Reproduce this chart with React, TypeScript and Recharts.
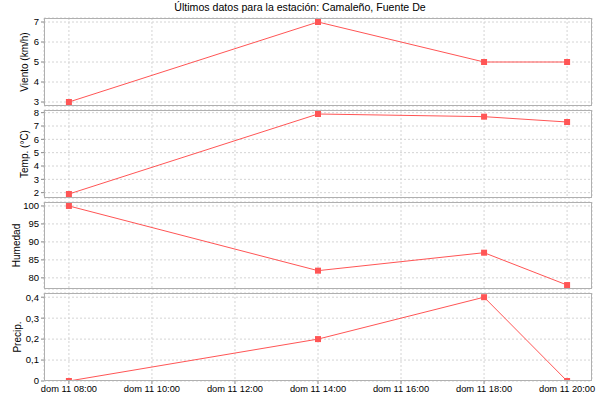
import React from "react"
import { LineChart, Line, XAxis, YAxis, CartesianGrid } from "recharts"

// hours of the day (dom 11)
const hours = [8, 14, 18, 20]
const viento = [3, 7, 5, 5]
const temp = [1.9, 7.9, 7.7, 7.3]
const humedad = [100, 82, 87, 78]
const precip = [0, 0.2, 0.4, 0]

const xTicks = [8, 10, 12, 14, 16, 18, 20]
const vientoTicks = [3, 4, 5, 6, 7]
const tempTicks = [2, 3, 4, 5, 6, 7, 8]
const humedadTicks = [80, 85, 90, 95, 100]
const precipTicks = [0, 0.1, 0.2, 0.3, 0.4]

const title = "Últimos datos para la estación: Camaleño, Fuente De"

const RED = "#ff5555"
const FONT = "'Liberation Sans', Arial, sans-serif"
const X_DOMAIN = [7.4, 20.6]
const PAD = 8 // extra room so edge tick labels are not cut

const SquareDot = (props: any) => {
  const { cx, cy } = props
  if (cx == null || cy == null) return null
  return <rect x={cx - 3} y={cy - 3} width={6} height={6} fill={RED} />
}

const fmtHour = (h: number) => `dom 11 ${String(h).padStart(2, "0")}:00`
const fmtComma = (v: number) => String(v).replace(".", ",")

interface PanelProps {
  values: number[]
  label: string
  labelX: number
  domain: number[]
  ticks: number[]
  top: number
  height: number
  showX?: boolean
  tickFmt?: (v: number) => string
}

function Panel({ values, label, labelX, domain, ticks, top, height, showX, tickFmt }: PanelProps) {
  const data = hours.map((h, i) => ({ h, v: values[i] }))
  const xh = showX ? 20 : 0
  const total = height + xh + PAD * 2
  const renderLabel = (p: any) => {
    const vb = p.viewBox || {}
    const cy = (vb.y ?? PAD) + (vb.height ?? height) / 2
    return (
      <text
        x={labelX}
        y={cy}
        transform={`rotate(-90 ${labelX} ${cy})`}
        textAnchor="middle"
        dominantBaseline="central"
        fontSize={10}
        fill="#000"
        fontFamily={FONT}
      >
        {label}
      </text>
    )
  }
  return (
    <div style={{ position: "absolute", left: 0, top: top - PAD, width: 600, height: total }}>
      <LineChart
        width={600}
        height={total}
        data={data}
        margin={{ top: PAD, right: 8, bottom: PAD, left: 0 }}
      >
        <CartesianGrid stroke="#d4d4d4" strokeDasharray="2 2" />
        <XAxis
          dataKey="h"
          type="number"
          domain={X_DOMAIN}
          ticks={xTicks}
          hide={!showX}
          height={xh}
          tickFormatter={fmtHour}
          axisLine={false}
          tickLine={{ stroke: "#888" }}
          tickSize={3}
          tickMargin={1}
          tick={{ fontSize: 9.3, fill: "#000", fontFamily: FONT }}
          interval={0}
        />
        <YAxis
          type="number"
          domain={domain}
          ticks={ticks}
          width={44}
          axisLine={false}
          tickLine={{ stroke: "#888" }}
          tickSize={3}
          tickMargin={2}
          tickFormatter={tickFmt}
          tick={{ fontSize: 9.5, fill: "#000", fontFamily: FONT }}
          interval={0}
          allowDataOverflow
          label={{ content: renderLabel }}
        />
        <Line
          dataKey="v"
          stroke={RED}
          strokeWidth={1}
          dot={<SquareDot />}
          activeDot={false}
          isAnimationActive={false}
        />
      </LineChart>
      <div
        style={{
          position: "absolute",
          left: 44,
          top: PAD,
          width: 548,
          height,
          boxSizing: "border-box",
          border: "1px solid #b0b0b0",
          pointerEvents: "none",
        }}
      />
    </div>
  )
}

export default function App() {
  return (
    <div
      style={{
        position: "absolute",
        left: 0,
        top: 0,
        width: 600,
        height: 400,
        background: "#fff",
        fontFamily: FONT,
        overflow: "hidden",
      }}
    >
      <div
        style={{
          position: "absolute",
          left: 0,
          top: 1,
          width: 600,
          textAlign: "center",
          fontSize: 10.6,
          color: "#000",
        }}
      >
        {title}
      </div>
      <Panel values={viento} label="Viento (km/h)" labelX={24} domain={[2.8, 7.2]} ticks={vientoTicks} top={18} height={88} />
      <Panel values={temp} label="Temp. (°C)" labelX={24} domain={[1.6, 8.2]} ticks={tempTicks} top={110} height={88} />
      <Panel values={humedad} label="Humedad" labelX={16} domain={[76.9, 101.1]} ticks={humedadTicks} top={202} height={87} />
      <Panel
        values={precip}
        label="Precip."
        labelX={17}
        domain={[0, 0.42]}
        ticks={precipTicks}
        top={293}
        height={88}
        showX
        tickFmt={fmtComma}
      />
    </div>
  )
}
